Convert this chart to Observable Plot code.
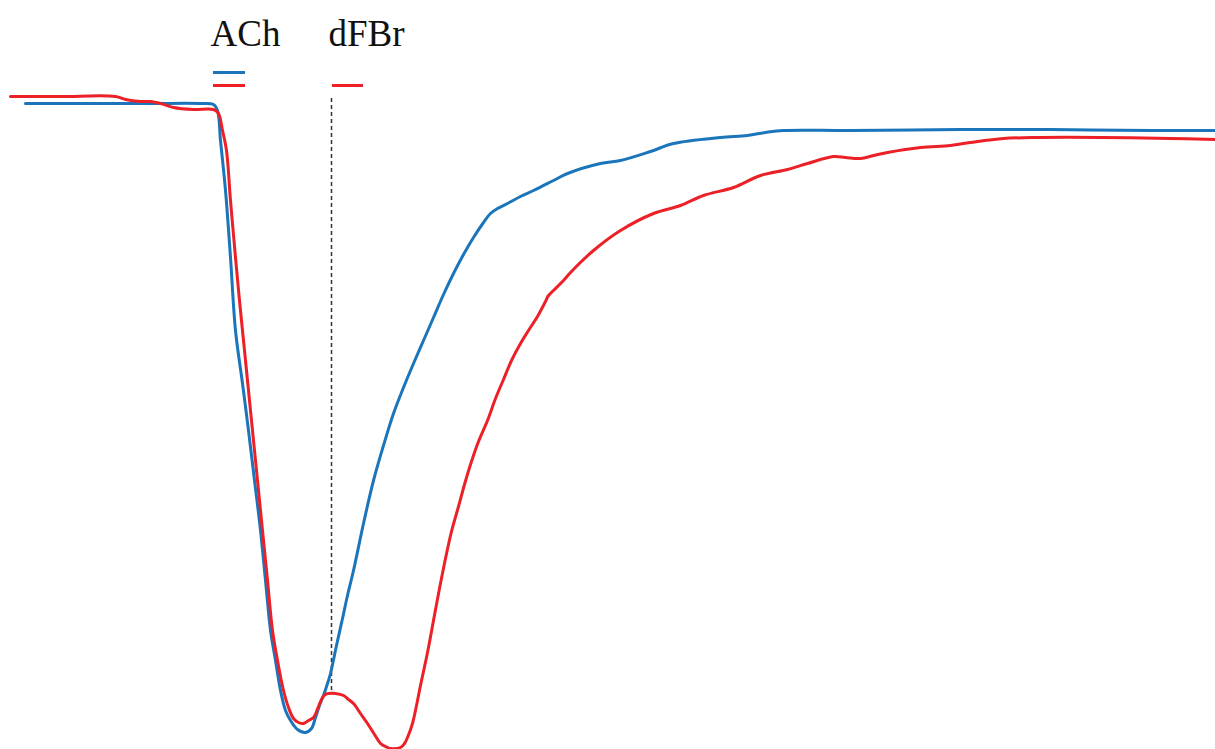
<!DOCTYPE html>
<html>
<head>
<meta charset="utf-8">
<script src="https://cdn.jsdelivr.net/npm/d3@7"></script>
<script src="https://cdn.jsdelivr.net/npm/@observablehq/plot@0.6"></script>
<style>
  html, body { margin: 0; padding: 0; background: #fff; }
  #chart svg { display: block; }
</style>
</head>
<body>
<div id="chart"></div>
<script>
// Time (arbitrary units) and current (arbitrary units, inward negative)
const achTime = [25,100,150,200,213,217,220,225,230,235,242,248,254,260,265,270,275,280,285,290,297,305,311,315,319,323,327,330,336,342,347,353,363,373,383,393,403,413,423,433,443,453,463,473,483,490,497,507,520,533,553,567,600,620,650,673,720,747,765,783,850,960,1050,1150,1215];
const achCurrent = [0,0,0,0,-1,-7,-37,-87,-154,-227,-280,-327,-377,-427,-477,-527,-557,-587,-607,-617,-626,-629,-625,-614,-602,-592,-580,-570,-542,-515,-492,-467,-420,-377,-342,-310,-284,-260,-237,-214,-191,-170,-151,-134,-119,-110,-105,-100,-93,-87,-77,-70,-60,-57,-48,-40,-34,-32,-29,-27,-27,-26,-26,-27,-27];

const dfbrTime = [10,60,115,125,140,150,160,173,193,213,218,222,226,230,235,239,243,247,252,257,262,267,272,277,283,288,293,298,303,308,313,318,322,325,328,335,343,348,353,360,367,374,380,385,390,400,404,407,412,416,420,427,433,439,445,451,458,464,470,478,487,495,503,511,520,528,537,545,548,553,563,570,593,620,653,680,703,733,760,787,807,833,845,860,873,887,920,950,970,1003,1040,1100,1170,1215];
const dfbrCurrent = [7,7,7,4,2,2,0,-4,-6,-6,-10,-27,-47,-97,-154,-197,-237,-277,-327,-377,-427,-477,-527,-557,-587,-604,-615,-619,-620,-617,-614,-603,-594,-591,-590,-590,-592,-596,-600,-610,-620,-631,-640,-643,-645,-644,-640,-634,-620,-602,-582,-549,-517,-485,-455,-428,-403,-381,-361,-338,-317,-295,-276,-257,-240,-227,-213,-198,-192,-187,-177,-169,-147,-127,-110,-102,-92,-84,-72,-66,-60,-53,-54,-55,-52,-49,-44,-42,-39,-35,-34,-34,-35,-36];

// Drug application periods
const drugs = ["ACh", "dFBr"];
const drugStart = [213, 332];
const drugEnd = [245, 363];
const markerTime = 331;   // dFBr onset marker
const markerTop = 8;
const markerBottom = -587;

const blue = "#1a75bb";
const red = "#ec2027";

const ach = achTime.map((t, i) => ({t, v: achCurrent[i]}));
const dfbr = dfbrTime.map((t, i) => ({t, v: dfbrCurrent[i]}));

const bars = [
  {x1: drugStart[0], x2: drugEnd[0], y: 31, c: blue},
  {x1: drugStart[0], x2: drugEnd[0], y: 18, c: red},
  {x1: drugStart[1], x2: drugEnd[1], y: 18, c: red}
];
const labels = drugs.map((d, i) => ({t: drugStart[i] - (i === 0 ? 3 : 4), y: 58, label: d}));

const chart = Plot.plot({
  width: 1215,
  height: 749,
  margin: 0,
  x: {domain: [0, 1215], range: [0, 1215], axis: null},
  y: {domain: [-646, 103], range: [749, 0], axis: null},
  marks: [
    Plot.ruleX([markerTime], {y1: markerBottom, y2: markerTop, stroke: "#333", strokeWidth: 1.5, strokeDasharray: "4,3"}),
    Plot.line(ach, {x: "t", y: "v", stroke: blue, strokeWidth: 3, curve: "catmull-rom"}),
    Plot.line(dfbr, {x: "t", y: "v", stroke: red, strokeWidth: 3, curve: "catmull-rom"}),
    Plot.ruleY(bars, {x1: "x1", x2: "x2", y: "y", stroke: "c", strokeWidth: 3}),
    Plot.text(labels, {x: "t", y: "y", text: "label", textAnchor: "start", lineAnchor: "bottom", fontSize: 37, fontFamily: "Liberation Serif, Times New Roman, serif", fill: "#111"})
  ]
});
document.getElementById("chart").append(chart);
</script>
</body>
</html>
